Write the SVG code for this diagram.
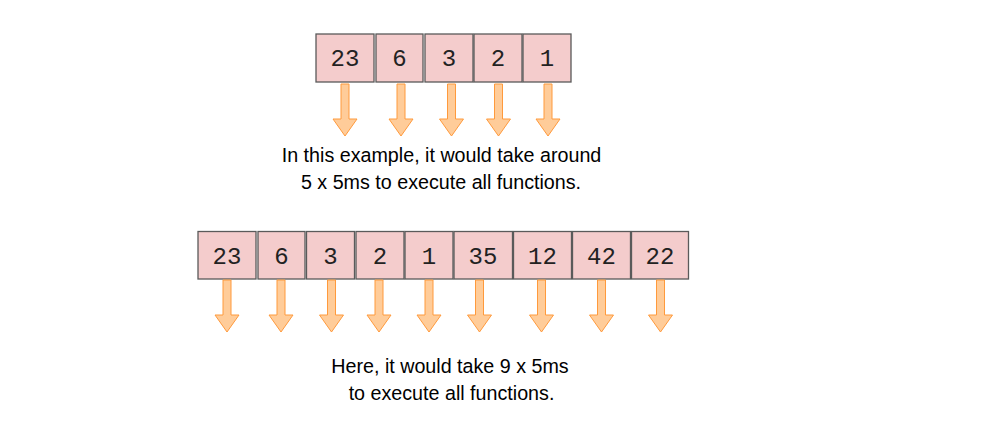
<svg xmlns="http://www.w3.org/2000/svg" width="981" height="421" viewBox="0 0 981 421">
<defs>
<style>
.box rect{fill:#f4cccc;stroke:#5a5a5a;stroke-width:1.3}
.box text{font-family:"Liberation Mono","Courier New",monospace;font-size:24px;fill:#222;text-anchor:middle}
.arr{fill:#ffcc99;stroke:#ff9a3c;stroke-width:1}
.cap{font-family:"Liberation Sans",Arial,sans-serif;font-size:19.7px;fill:#000;text-anchor:middle}
</style>
<path id="a1" d="M-4,0 H4 V35 H12 L0,52 L-12,35 H-4 Z"/>
</defs>
<rect width="981" height="421" fill="#fff"/>
<g id="row1">
<g id="t23" class="box"><rect x="316" y="34" width="58" height="48"/><text x="345" y="66">23</text></g>
<g id="t6" class="box"><rect x="376" y="34" width="47" height="48"/><text x="399.5" y="66">6</text></g>
<g id="t3" class="box"><rect x="425" y="34" width="48" height="48"/><text x="449" y="66">3</text></g>
<g id="t2" class="box"><rect x="474" y="34" width="48" height="48"/><text x="498" y="66">2</text></g>
<g id="t1" class="box"><rect x="523" y="34" width="48" height="48"/><text x="547" y="66">1</text></g>
</g>
<g id="row2">
<g id="b23" class="box"><rect x="198" y="231.5" width="58" height="47.5"/><text x="227" y="263.5">23</text></g>
<g id="b6" class="box"><rect x="258" y="231.5" width="47" height="47.5"/><text x="281.5" y="263.5">6</text></g>
<g id="b3" class="box"><rect x="306.5" y="231.5" width="48" height="47.5"/><text x="330.5" y="263.5">3</text></g>
<g id="b2" class="box"><rect x="356" y="231.5" width="48" height="47.5"/><text x="380" y="263.5">2</text></g>
<g id="b1" class="box"><rect x="405" y="231.5" width="48" height="47.5"/><text x="429" y="263.5">1</text></g>
<g id="b35" class="box"><rect x="454" y="231.5" width="58.5" height="47.5"/><text x="483" y="263.5">35</text></g>
<g id="b12" class="box"><rect x="513.5" y="231.5" width="58" height="47.5"/><text x="542.5" y="263.5">12</text></g>
<g id="b42" class="box"><rect x="572.5" y="231.5" width="58" height="47.5"/><text x="601.5" y="263.5">42</text></g>
<g id="b22" class="box"><rect x="631.5" y="231.5" width="57" height="47.5"/><text x="660" y="263.5">22</text></g>
</g>
<g id="connectors">
<use href="#a1" class="arr" x="345" y="84"/>
<use href="#a1" class="arr" x="401" y="84"/>
<use href="#a1" class="arr" x="451.5" y="84"/>
<use href="#a1" class="arr" x="498.5" y="84"/>
<use href="#a1" class="arr" x="548" y="84"/>
<use href="#a1" class="arr" x="227" y="280"/>
<use href="#a1" class="arr" x="281" y="280"/>
<use href="#a1" class="arr" x="331.5" y="280"/>
<use href="#a1" class="arr" x="379" y="280"/>
<use href="#a1" class="arr" x="429" y="280"/>
<use href="#a1" class="arr" x="479.5" y="280"/>
<use href="#a1" class="arr" x="541.5" y="280"/>
<use href="#a1" class="arr" x="601.5" y="280"/>
<use href="#a1" class="arr" x="660.5" y="280"/>
</g>
<g id="caption1">
<text class="cap" x="441.5" y="161.5">In this example, it would take around</text>
<text class="cap" x="441" y="188.5">5 x 5ms to execute all functions.</text>
</g>
<g id="caption2">
<text class="cap" x="450" y="373">Here, it would take 9 x 5ms</text>
<text class="cap" x="451.5" y="400">to execute all functions.</text>
</g>
</svg>
